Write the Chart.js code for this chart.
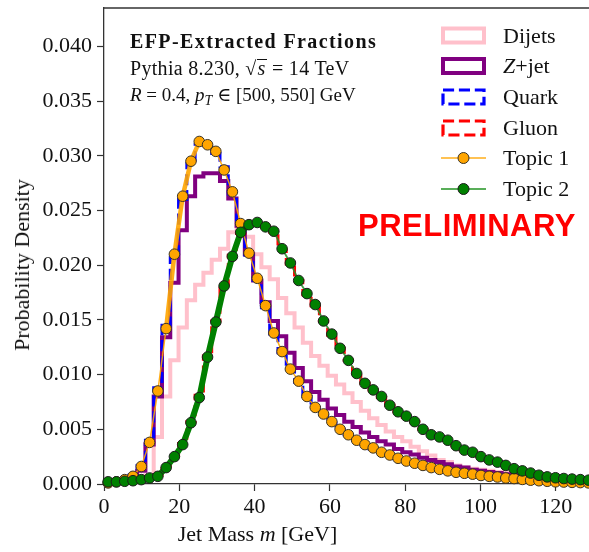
<!DOCTYPE html>
<html><head><meta charset="utf-8">
<script src="https://cdn.jsdelivr.net/npm/chart.js@4.4.1/dist/chart.umd.min.js"></script>
<style>
html,body{margin:0;padding:0;background:#fff;overflow:hidden;}
#wrap{position:relative;width:589px;height:552px;}
canvas{position:absolute;left:0;top:0;}
.t{position:absolute;font-family:"Liberation Serif","DejaVu Serif",serif;color:#111;white-space:nowrap;line-height:1;}
.lg{font-size:22px;}
</style></head><body>
<div id="wrap">
<canvas id="c" width="589" height="552"></canvas>
<div class="t" style="left:130px;top:31px;font-size:20px;font-weight:bold;letter-spacing:1.4px">EFP-Extracted Fractions</div>
<div class="t" style="left:130px;top:58px;font-size:20px;letter-spacing:0.3px">Pythia 8.230, √<span style="display:inline-block;line-height:17px;border-top:1.2px solid #111;font-style:italic;padding:0 1px">s</span> = 14 TeV</div>
<div class="t" style="left:130px;top:84.5px;font-size:19px"><i>R</i> = 0.4, <i>p</i><span style="font-size:14px;position:relative;top:4px"><i>T</i></span> ∈ [500, 550] GeV</div>
<div class="t" style="left:358px;top:210px;font-family:'Liberation Sans',Arial,sans-serif;font-weight:bold;font-size:31px;color:#f00;letter-spacing:0.5px">PRELIMINARY</div>
<div class="t lg" style="left:503px;top:24.6px">Dijets</div>
<div class="t lg" style="left:503px;top:55.1px"><i>Z</i>+jet</div>
<div class="t lg" style="left:503px;top:86.1px">Quark</div>
<div class="t lg" style="left:503px;top:117.1px">Gluon</div>
<div class="t lg" style="left:503px;top:147.1px">Topic 1</div>
<div class="t lg" style="left:503px;top:178.1px">Topic 2</div>
<div class="t" style="left:257.5px;top:523px;font-size:22px;transform:translateX(-50%)">Jet Mass <i>m</i> [GeV]</div>
<div class="t" style="left:21.6px;top:264.5px;font-size:22px;transform:translate(-50%,-50%) rotate(-90deg)">Probability Density</div>
</div>
<script>
// ---- data ----
const binWidth = 2.2;          // GeV
const nBins = 59;
const binEdges = Array.from({length: nBins + 1}, (_, i) => +(i * binWidth).toFixed(2));
const binCenters = binEdges.slice(0, nBins).map(e => +(e + binWidth / 2).toFixed(2));

const dijets = [0.00005,0.0001,0.0001,0.0002,0.0004,0.0008,0.0043,0.0080,0.0113,0.0143,
  0.0168,0.0182,0.0193,0.0205,0.0215,0.0230,0.0233,0.0226,0.0210,0.0198,
  0.0187,0.0170,0.0156,0.0143,0.0129,0.0117,0.0108,0.0099,0.0091,0.0083,
  0.0075,0.0067,0.0060,0.0054,0.0048,0.0043,0.0039,0.0034,0.0030,0.0026,
  0.0022,0.0020,0.0017,0.0015,0.0014,0.0013,0.0012,0.0011,0.0010,0.0009,
  0.0008,0.0007,0.0006,0.0005,0.00045,0.0004,0.00035,0.0003,0.00025];
const zjet = [0.00005,0.0001,0.0002,0.0004,0.0012,0.0036,0.0080,0.0134,0.0184,0.0232,
  0.0263,0.0281,0.0284,0.0284,0.0277,0.0261,0.0236,0.0210,0.0186,0.0166,
  0.0149,0.0135,0.0120,0.0106,0.0094,0.0084,0.0077,0.0069,0.0063,0.0057,
  0.0052,0.0047,0.0043,0.0039,0.0036,0.0032,0.0029,0.0027,0.0024,0.0022,
  0.0020,0.0018,0.0016,0.0015,0.0013,0.0012,0.0011,0.0010,0.0009,0.0008,
  0.0007,0.0006,0.0005,0.00045,0.0004,0.00035,0.0003,0.00025,0.0002];
const quark = [0.0001,0.0002,0.0004,0.0008,0.0017,0.0040,0.0088,0.0145,0.0207,0.0260,
  0.0293,0.0310,0.0308,0.0302,0.0290,0.0265,0.0236,0.0209,0.0186,0.0161,
  0.0137,0.0120,0.0104,0.0093,0.0080,0.0070,0.0063,0.0056,0.0050,0.0045,
  0.0040,0.0036,0.0032,0.0029,0.0026,0.0023,0.0021,0.0019,0.0017,0.0015,
  0.00133,0.0012,0.00106,0.00097,0.0009,0.00078,0.0007,0.00063,0.00055,0.0005,
  0.00042,0.00035,0.0003,0.00025,0.0002,0.00018,0.00015,0.00013,0.0001];
const gluon = [0.0002,0.0002,0.00025,0.0003,0.0004,0.0006,0.0008,0.0016,0.0026,0.0037,
  0.0057,0.0081,0.0117,0.0149,0.0182,0.0209,0.0229,0.0237,0.0238,0.0235,
  0.0230,0.0214,0.0201,0.0186,0.0173,0.0163,0.0149,0.0136,0.0124,0.0113,
  0.0101,0.0092,0.0086,0.0079,0.0072,0.0066,0.0061,0.0057,0.0050,0.0045,
  0.0043,0.0040,0.0035,0.0031,0.0029,0.0025,0.0022,0.0020,0.0017,0.0014,
  0.0012,0.0010,0.0008,0.00065,0.00057,0.0005,0.00045,0.0004,0.00035];
const topic1 = [0.0001,0.0002,0.0004,0.0007,0.0016,0.0038,0.0085,0.0142,0.0210,0.0263,
  0.0295,0.0313,0.0310,0.0304,0.0287,0.0267,0.0238,0.0211,0.0188,0.0163,
  0.0138,0.0121,0.0105,0.0094,0.0080,0.0070,0.0064,0.0057,0.0050,0.0045,
  0.0040,0.0036,0.0033,0.0029,0.00265,0.00235,0.0021,0.0019,0.0017,0.0015,
  0.00134,0.0012,0.00107,0.00098,0.0009,0.00078,0.0007,0.00064,0.00055,0.0005,
  0.00042,0.00035,0.0003,0.00025,0.0002,0.00018,0.00015,0.00013,0.0001];
const topic2 = [0.0002,0.0002,0.00025,0.0003,0.0004,0.00055,0.0007,0.0015,0.0025,0.0036,
  0.0056,0.0079,0.0116,0.0148,0.0181,0.0208,0.0230,0.0237,0.0239,0.0235,
  0.0231,0.0215,0.0202,0.0186,0.0174,0.0164,0.0149,0.0137,0.0124,0.0113,
  0.0101,0.0092,0.0086,0.0080,0.0072,0.0066,0.0062,0.0057,0.0050,0.0045,
  0.0043,0.0040,0.0035,0.0031,0.0029,0.0025,0.0022,0.0020,0.0017,0.0014,
  0.0012,0.0010,0.0008,0.00065,0.00057,0.0005,0.00045,0.0004,0.00035];

const xTicks = [0, 20, 40, 60, 80, 100, 120];
const yTicks = [0, 0.005, 0.010, 0.015, 0.020, 0.025, 0.030, 0.035, 0.040];
const xMax = 128.8, yMax = 0.0435;

// ---- helpers ----
function histPoints(vals) {
  const pts = vals.map((v, i) => ({x: binEdges[i], y: v}));
  pts.push({x: binEdges[nBins], y: vals[nBins - 1]});
  pts.push({x: binEdges[nBins], y: 0});
  pts.unshift({x: 0, y: 0});
  return pts;
}
function centerPoints(vals) { return vals.map((v, i) => ({x: binCenters[i], y: v})); }

const serif = "'Liberation Serif','DejaVu Serif',serif";

const histCommon = {stepped: 'before', pointRadius: 0, fill: false, tension: 0, borderJoinStyle: 'miter'};

const datasets = [
  {label: 'Topic 2', data: centerPoints(topic2), order: 0, clip: false,
   borderColor: 'rgba(40,140,40,0.85)', borderWidth: 1.8, pointRadius: 5.3, pointBorderWidth: 1,
   pointBackgroundColor: '#008000', pointBorderColor: '#1c1c1c', tension: 0,
   segment: {borderWidth: c => (c.p1.parsed.y - c.p0.parsed.y > 0.0006 && c.p0.parsed.y > 0.0005 ? 6 : 1.8),
             borderColor: c => (c.p1.parsed.y - c.p0.parsed.y > 0.0006 && c.p0.parsed.y > 0.0005 ? '#008000' : 'rgba(40,140,40,0.85)')}},
  {label: 'Topic 1', data: centerPoints(topic1), order: 1, clip: false,
   borderColor: 'rgba(255,165,0,0.9)', borderWidth: 1.5, pointRadius: 5.3, pointBorderWidth: 1,
   pointBackgroundColor: '#FFA500', pointBorderColor: '#3a3326', tension: 0,
   segment: {borderWidth: c => (c.p1.parsed.y - c.p0.parsed.y > 0.001 && c.p0.parsed.y > 0.012 ? 4.5 : 1.5)}},
  Object.assign({label: 'Gluon', data: histPoints(gluon), order: 2, borderColor: '#FF0000', borderWidth: 3, borderDash: [11.1, 4.8]}, histCommon),
  Object.assign({label: 'Quark', data: histPoints(quark), order: 3, borderColor: '#0000FF', borderWidth: 3, borderDash: [11.1, 4.8]}, histCommon),
  Object.assign({label: 'Z+jet', data: histPoints(zjet), order: 4, borderColor: '#800080', borderWidth: 4}, histCommon),
  Object.assign({label: 'Dijets', data: histPoints(dijets), order: 5, borderColor: '#FFC0CB', borderWidth: 4}, histCommon)
];

const framePlugin = {
  id: 'frame',
  afterDraw(chart) {
    const {ctx, chartArea: a} = chart;
    ctx.save();
    ctx.strokeStyle = '#333'; ctx.lineWidth = 1.3;
    ctx.beginPath(); ctx.moveTo(a.left, a.top); ctx.lineTo(a.right + 2, a.top); ctx.stroke();
    // legend handles
    const hx = 443, hw = 41, hh = 14;
    const rects = [
      {y: 28.5, c: '#FFC0CB', w: 4, d: []},
      {y: 59, c: '#800080', w: 4, d: []},
      {y: 90, c: '#0000FF', w: 3.2, d: [11.1, 4.8]},
      {y: 121, c: '#FF0000', w: 3.2, d: [11.1, 4.8]}
    ];
    rects.forEach(r => {
      ctx.fillStyle = '#fff'; ctx.fillRect(hx, r.y, hw, hh);
      ctx.strokeStyle = r.c; ctx.lineWidth = r.w; ctx.setLineDash(r.d);
      ctx.lineJoin = 'miter';
      ctx.strokeRect(hx, r.y, hw, hh);
    });
    ctx.setLineDash([]);
    const tops = [{y: 158, lc: 'rgba(255,165,0,0.9)', fc: '#FFA500', ec: '#3a3326', lw: 1.5},
                  {y: 189, lc: 'rgba(60,160,60,0.85)', fc: '#008000', ec: '#1c1c1c', lw: 2}];
    tops.forEach(t => {
      ctx.strokeStyle = t.lc; ctx.lineWidth = t.lw;
      ctx.beginPath(); ctx.moveTo(441, t.y); ctx.lineTo(486, t.y); ctx.stroke();
      ctx.beginPath(); ctx.arc(463.5, t.y, 5.5, 0, Math.PI * 2);
      ctx.fillStyle = t.fc; ctx.fill(); ctx.strokeStyle = t.ec; ctx.lineWidth = 1; ctx.stroke();
    });
    ctx.restore();
  }
};

new Chart(document.getElementById('c'), {
  type: 'line',
  data: {datasets},
  options: {
    responsive: false, animation: false, devicePixelRatio: 1,
    layout: {autoPadding: false, padding: {top: 8, right: 0, left: 0, bottom: 0}},
    plugins: {legend: {display: false}, tooltip: {enabled: false}},
    elements: {point: {hoverRadius: 5}},
    scales: {
      x: {type: 'linear', min: 0, max: xMax,
          afterBuildTicks: s => { s.ticks = xTicks.map(v => ({value: v})); },
          afterFit: s => { s.height = 68; s.paddingLeft = 0; s.paddingRight = 0; },
          ticks: {font: {family: serif, size: 22}, color: '#111', padding: 3, maxRotation: 0, autoSkip: false,
                  callback: v => String(v)},
          grid: {display: true, drawOnChartArea: false, drawTicks: true, tickLength: 7, tickColor: '#333', tickWidth: 1.2},
          border: {display: true, color: '#333', width: 1.3}},
      y: {type: 'linear', min: 0, max: yMax,
          afterBuildTicks: s => { s.ticks = yTicks.map(v => ({value: v})); },
          afterFit: s => { s.width = 104; s.paddingTop = 0; s.paddingBottom = 0; },
          ticks: {font: {family: serif, size: 22}, color: '#111', padding: 5, autoSkip: false,
                  callback: v => v.toFixed(3)},
          grid: {display: true, drawOnChartArea: false, drawTicks: true, tickLength: 7, tickColor: '#333', tickWidth: 1.2},
          border: {display: true, color: '#333', width: 1.3}}
    }
  },
  plugins: [framePlugin]
});
</script>
</body></html>
